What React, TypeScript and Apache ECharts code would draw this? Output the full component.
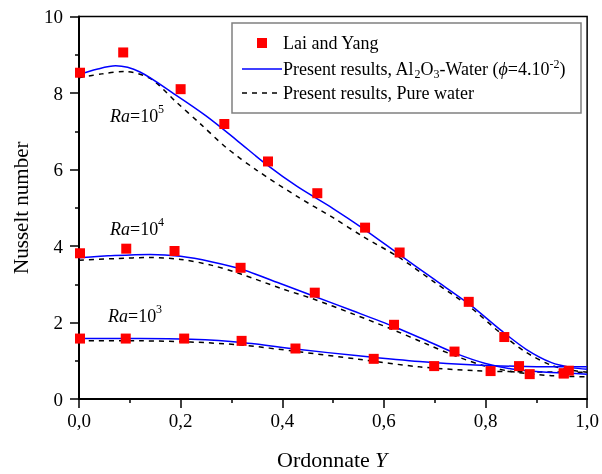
import React, { useEffect, useRef } from "react";
import * as echarts from "echarts";

// Experimental points (Lai and Yang)
const ra5PtsX = [0.002, 0.087, 0.2, 0.286, 0.372, 0.469, 0.563, 0.631, 0.767, 0.837, 0.964];
const ra5PtsY = [8.53, 9.06, 8.1, 7.19, 6.21, 5.38, 4.48, 3.83, 2.54, 1.62, 0.74];
const ra4PtsX = [0.002, 0.093, 0.188, 0.318, 0.464, 0.62, 0.739, 0.866, 0.954];
const ra4PtsY = [3.81, 3.93, 3.87, 3.43, 2.78, 1.94, 1.24, 0.86, 0.67];
const ra3PtsX = [0.002, 0.092, 0.207, 0.32, 0.426, 0.58, 0.699, 0.81, 0.887, 0.954];
const ra3PtsY = [1.58, 1.58, 1.58, 1.52, 1.32, 1.05, 0.86, 0.73, 0.65, 0.67];

// Present results, Al2O3-water (solid blue)
const ra5NanoX = [0, 0.035, 0.072, 0.12, 0.19, 0.25, 0.31, 0.37, 0.43, 0.5, 0.56, 0.63, 0.7, 0.77, 0.83, 0.88, 0.93, 0.97, 1.0];
const ra5NanoY = [8.48, 8.62, 8.71, 8.55, 7.95, 7.4, 6.77, 6.12, 5.55, 4.98, 4.45, 3.78, 3.12, 2.46, 1.8, 1.3, 0.95, 0.82, 0.78];
const ra4NanoX = [0, 0.07, 0.14, 0.2, 0.26, 0.32, 0.4, 0.46, 0.54, 0.62, 0.68, 0.74, 0.8, 0.86, 0.93, 1.0];
const ra4NanoY = [3.69, 3.75, 3.78, 3.73, 3.59, 3.39, 3.0, 2.7, 2.3, 1.89, 1.55, 1.2, 0.93, 0.77, 0.69, 0.65];
const ra3NanoX = [0, 0.12, 0.22, 0.32, 0.43, 0.55, 0.67, 0.78, 0.88, 1.0];
const ra3NanoY = [1.58, 1.58, 1.56, 1.48, 1.3, 1.13, 0.98, 0.89, 0.85, 0.84];

// Present results, pure water (dashed black)
const ra5WaterX = [0, 0.045, 0.09, 0.14, 0.19, 0.24, 0.29, 0.35, 0.43, 0.5, 0.56, 0.63, 0.7, 0.77, 0.83, 0.88, 0.93, 0.97, 1.0];
const ra5WaterY = [8.4, 8.5, 8.56, 8.38, 7.78, 7.18, 6.57, 5.98, 5.29, 4.74, 4.24, 3.7, 3.05, 2.4, 1.72, 1.22, 0.88, 0.75, 0.7];
const ra4WaterX = [0, 0.07, 0.14, 0.2, 0.26, 0.32, 0.4, 0.46, 0.54, 0.62, 0.68, 0.74, 0.8, 0.86, 0.93, 1.0];
const ra4WaterY = [3.63, 3.67, 3.7, 3.65, 3.5, 3.26, 2.88, 2.62, 2.22, 1.8, 1.46, 1.13, 0.86, 0.7, 0.61, 0.58];
const ra3WaterX = [0, 0.12, 0.22, 0.32, 0.43, 0.55, 0.67, 0.78, 0.88, 1.0];
const ra3WaterY = [1.52, 1.52, 1.49, 1.41, 1.24, 1.04, 0.84, 0.74, 0.71, 0.7];

const zip = (xs: number[], ys: number[]) => xs.map((x, i) => [x, ys[i]]);

const SERIF = "Times New Roman";

export default function App() {
  const ref = useRef<HTMLDivElement>(null);
  useEffect(() => {
    if (!ref.current) return;
    const chart = echarts.init(ref.current, null, { renderer: "svg" });
    const scatter = (xs: number[], ys: number[]) => ({
      type: "scatter",
      data: zip(xs, ys),
      symbol: "rect",
      symbolSize: 10,
      itemStyle: { color: "#ff0000", opacity: 1 },
      z: 5,
    });
    const nano = (xs: number[], ys: number[]) => ({
      type: "line",
      data: zip(xs, ys),
      smooth: 0.3,
      showSymbol: false,
      lineStyle: { color: "#0000ff", width: 1.5 },
      z: 4,
    });
    const water = (xs: number[], ys: number[]) => ({
      type: "line",
      data: zip(xs, ys),
      smooth: 0.3,
      showSymbol: false,
      lineStyle: { color: "#000000", width: 1.5, type: [5, 5] },
      z: 3,
    });
    const annot = (x: number, y: number, exp: string) => [
      {
        type: "text",
        x: x,
        y: y,
        style: { text: "Ra", fontFamily: SERIF, fontSize: 18, fontStyle: "italic", fill: "#000" },
        z: 10,
      },
      {
        type: "text",
        x: x + 20,
        y: y,
        style: { text: "=10", fontFamily: SERIF, fontSize: 18, fill: "#000" },
        z: 10,
      },
      {
        type: "text",
        x: x + 48,
        y: y - 4,
        style: { text: exp, fontFamily: SERIF, fontSize: 12, fill: "#000" },
        z: 10,
      },
    ];
    const legRich = {
      a: { fontFamily: SERIF, fontSize: 18, lineHeight: 22 },
      b: { fontFamily: SERIF, fontSize: 12, lineHeight: 12, verticalAlign: "bottom" },
      p: { fontFamily: SERIF, fontSize: 12, lineHeight: 12, verticalAlign: "top" },
      i: { fontFamily: SERIF, fontSize: 18, fontStyle: "italic", lineHeight: 22 },
    };
    chart.setOption({
      animation: false,
      grid: {
        left: 79,
        right: 12,
        top: 16.5,
        bottom: 75,
        show: true,
        borderColor: "#000",
        borderWidth: 1.5,
      },
      xAxis: {
        type: "value",
        min: 0,
        max: 1,
        interval: 0.2,
        axisLine: { lineStyle: { color: "#000", width: 2 } },
        axisTick: { inside: false, length: 9, lineStyle: { color: "#000", width: 1.5 } },
        minorTick: { show: true, splitNumber: 2, length: 4, lineStyle: { color: "#000", width: 1.5 } },
        splitLine: { show: false },
        axisLabel: {
          margin: 12,
          fontFamily: SERIF,
          fontSize: 19,
          color: "#000",
          formatter: (v: number) => v.toFixed(1).replace(".", ","),
        },
      },
      yAxis: {
        type: "value",
        min: 0,
        max: 10,
        interval: 2,
        name: "Nusselt number",
        nameLocation: "middle",
        nameGap: 48,
        nameTextStyle: { fontFamily: SERIF, fontSize: 21, color: "#000" },
        axisLine: { lineStyle: { color: "#000", width: 2 } },
        axisTick: { inside: false, length: 9, lineStyle: { color: "#000", width: 1.5 } },
        minorTick: { show: true, splitNumber: 2, length: 4, lineStyle: { color: "#000", width: 1.5 } },
        splitLine: { show: false },
        axisLabel: { margin: 16, fontFamily: SERIF, fontSize: 19, color: "#000" },
      },
      series: [
        water(ra5WaterX, ra5WaterY),
        water(ra4WaterX, ra4WaterY),
        water(ra3WaterX, ra3WaterY),
        nano(ra5NanoX, ra5NanoY),
        nano(ra4NanoX, ra4NanoY),
        nano(ra3NanoX, ra3NanoY),
        scatter(ra5PtsX, ra5PtsY),
        scatter(ra4PtsX, ra4PtsY),
        scatter(ra3PtsX, ra3PtsY),
      ],
      graphic: [
        {
          type: "rect",
          shape: { x: 232, y: 23, width: 349, height: 90 },
          style: { fill: "#fff", stroke: "#808080", lineWidth: 1.5 },
          z: 20,
        },
        {
          type: "rect",
          shape: { x: 257, y: 38, width: 10, height: 10 },
          style: { fill: "#ff0000" },
          z: 21,
        },
        {
          type: "line",
          shape: { x1: 242, y1: 69, x2: 282, y2: 69 },
          style: { stroke: "#0000ff", lineWidth: 1.5 },
          z: 21,
        },
        {
          type: "line",
          shape: { x1: 242, y1: 93, x2: 282, y2: 93 },
          style: { stroke: "#000", lineWidth: 1.5, lineDash: [5, 5] },
          z: 21,
        },
        {
          type: "text",
          x: 283,
          y: 34,
          style: { text: "Lai and Yang", fontFamily: SERIF, fontSize: 18 },
          z: 21,
        },
        {
          type: "text",
          x: 283,
          y: 58,
          style: {
            text: "{a|Present results, Al}{b|2}{a|O}{b|3}{a|-Water (}{i|ϕ}{a|=4.10}{p|-2}{a|)}",
            rich: legRich,
          },
          z: 21,
        },
        {
          type: "text",
          x: 283,
          y: 84,
          style: { text: "Present results, Pure water", fontFamily: SERIF, fontSize: 18 },
          z: 21,
        },
        {
          type: "text",
          x: 277,
          y: 448,
          style: { text: "Ordonnate", fontFamily: SERIF, fontSize: 22, fill: "#000" },
          z: 21,
        },
        {
          type: "text",
          x: 375,
          y: 448,
          style: { text: "Y", fontFamily: SERIF, fontSize: 22, fontStyle: "italic", fill: "#000" },
          z: 21,
        },
        ...annot(110, 107, "5"),
        ...annot(110, 220, "4"),
        ...annot(108, 307, "3"),
      ],
    });
    return () => chart.dispose();
  }, []);
  return <div ref={ref} style={{ position: "fixed", left: 0, top: 0, width: 602, height: 474 }} />;
}
